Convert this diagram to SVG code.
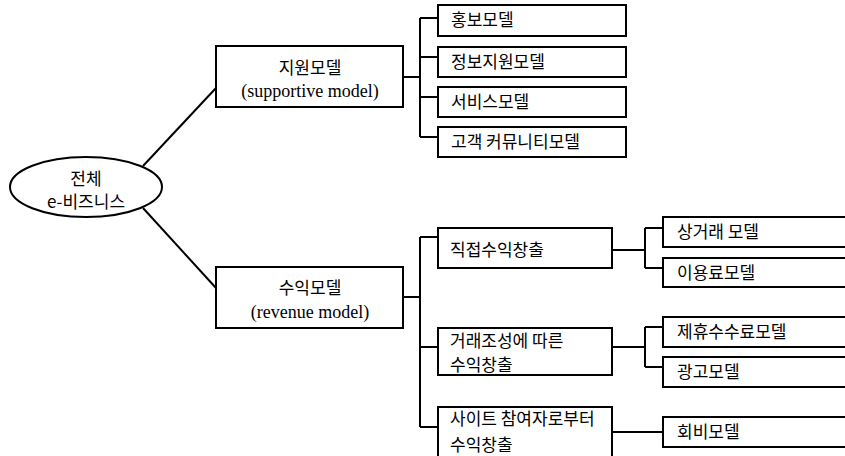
<svg xmlns="http://www.w3.org/2000/svg" width="845" height="456" viewBox="0 0 845 456">
<style>
.box{fill:#fff;stroke:#000;stroke-width:2}
.ln{fill:none;stroke:#000;stroke-width:2}
.ko{font-family:"Noto Sans CJK KR","Noto Sans",sans-serif;font-size:17px;fill:#000}
.en{font-family:"Liberation Serif",serif;font-size:18px;fill:#000}
.mid{text-anchor:middle}
</style>
<rect width="845" height="456" fill="#fff"/>
<g id="connectors">
<path class="ln" d="M143,166 L216,88"/>
<path class="ln" d="M143,208 L216,288"/>
<path class="ln" d="M403,77 H420 M420,18 V137 M420,18 H438 M420,57 H438 M420,97 H438 M420,137 H438"/>
<path class="ln" d="M403,297 H420 M420,237 V427 M420,237 H438 M420,347 H438 M420,427 H438"/>
<path class="ln" d="M612,250 H645 M645,228 V268 M645,228 H663 M645,268 H663"/>
<path class="ln" d="M612,347 H645 M645,327 V367 M645,327 H663 M645,367 H663"/>
<path class="ln" d="M612,432 H663"/>
</g>
<g id="root">
<ellipse class="box" cx="86" cy="187" rx="76" ry="30"/>
<text class="ko mid" x="86" y="185">전체</text>
<text class="ko mid" x="86" y="208">e-비즈니스</text>
</g>
<g id="support">
<rect class="box" x="216" y="46" width="187" height="61"/>
<text class="ko mid" x="310" y="74">지원모델</text>
<text class="en mid" x="310" y="97">(supportive model)</text>
</g>
<g id="revenue">
<rect class="box" x="216" y="267" width="187" height="61"/>
<text class="ko mid" x="310" y="294">수익모델</text>
<text class="en mid" x="310" y="318">(revenue model)</text>
</g>
<g id="s1"><rect class="box" x="438" y="5" width="188" height="31"/><text class="ko" x="451" y="26">홍보모델</text></g>
<g id="s2"><rect class="box" x="438" y="47" width="188" height="30"/><text class="ko" x="451" y="68">정보지원모델</text></g>
<g id="s3"><rect class="box" x="438" y="87" width="188" height="30"/><text class="ko" x="451" y="108">서비스모델</text></g>
<g id="s4"><rect class="box" x="438" y="127" width="188" height="30"/><text class="ko" x="451" y="148">고객 커뮤니티모델</text></g>
<g id="r1"><rect class="box" x="438" y="228" width="174" height="40"/><text class="ko" x="450" y="256">직접수익창출</text></g>
<g id="r2"><rect class="box" x="438" y="328" width="174" height="47"/><text class="ko" x="450" y="347">거래조성에 따른</text><text class="ko" x="450" y="371">수익창출</text></g>
<g id="r3"><rect class="box" x="438" y="407" width="174" height="56"/><text class="ko" x="450" y="425">사이트 참여자로부터</text><text class="ko" x="450" y="451">수익창출</text></g>
<g id="r1a"><rect class="box" x="663" y="217" width="184" height="30"/><text class="ko" x="677" y="238">상거래 모델</text></g>
<g id="r1b"><rect class="box" x="663" y="258" width="184" height="29"/><text class="ko" x="677" y="279">이용료모델</text></g>
<g id="r2a"><rect class="box" x="663" y="317" width="184" height="30"/><text class="ko" x="677" y="338">제휴수수료모델</text></g>
<g id="r2b"><rect class="box" x="663" y="357" width="184" height="30"/><text class="ko" x="677" y="378">광고모델</text></g>
<g id="r3a"><rect class="box" x="663" y="417" width="184" height="30"/><text class="ko" x="677" y="438">회비모델</text></g>
</svg>
